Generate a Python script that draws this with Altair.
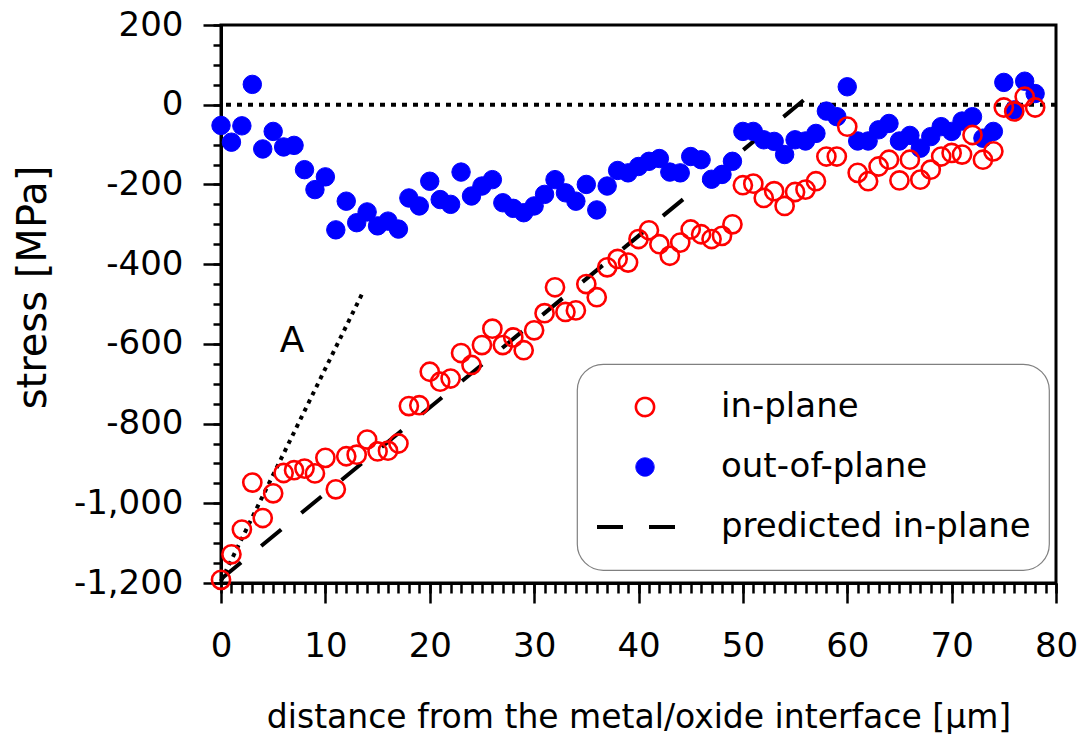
import altair as alt
import pandas as pd

FONT = "DejaVu Sans"

# ---------------- data ----------------
dist = [0, 1, 2, 3, 4, 5, 6, 7, 8, 9, 10, 11, 12, 13, 14, 15, 16, 17, 18, 19,
        20, 21, 22, 23, 24, 25, 26, 27, 28, 29, 30, 31, 32, 33, 34, 35, 36, 37, 38, 39,
        40, 41, 42, 43, 44, 45, 46, 47, 48, 49, 50, 51, 52, 53, 54, 55, 56, 57, 58, 59,
        60, 61, 62, 63, 64, 65, 66, 67, 68, 69, 70, 71, 72, 73, 74, 75, 76, 77, 78]

in_plane = [-1192, -1128, -1066, -948, -1037, -975, -924, -917, -913, -925,
            -886, -965, -882, -878, -840, -870, -868, -850, -756, -754,
            -670, -695, -687, -623, -653, -603, -562, -603, -584, -616,
            -566, -523, -458, -520, -516, -450, -483, -408, -387, -396,
            -337, -315, -350, -379, -346, -313, -325, -337, -329, -300,
            -202, -198, -234, -217, -254, -219, -213, -192, -130, -130,
            -55, -171, -192, -155, -138, -190, -138, -188, -163, -130,
            -121, -125, -76, -138, -117, -7, -17, 20, -7]

out_of_plane = [-52, -94, -53, 51, -111, -67, -106, -102, -163, -213,
                -181, -314, -242, -296, -269, -304, -292, -312, -234, -254,
                -192, -238, -250, -169, -229, -204, -188, -246, -260, -271,
                -254, -225, -188, -221, -242, -200, -264, -204, -165, -171,
                -155, -142, -135, -169, -171, -130, -138, -187, -175, -142,
                -67, -67, -88, -92, -125, -88, -91, -72, -16, -30,
                45, -91, -91, -63, -47, -91, -77, -109, -80, -55,
                -67, -41, -30, -84, -67, 56, -13, 59, 28]

pred_x = [0, 56]
pred_y = [-1190, 15]

a_line_x = [0, 13.6]
a_line_y = [-1195, -470]
a_label = ["A"]
a_label_x = [6.8]
a_label_y = [-594]

series = ["in-plane", "out-of-plane", "predicted in-plane"]

x_major = [0, 10, 20, 30, 40, 50, 60, 70, 80]
x_minor = list(range(0, 81, 1))
y_major = [-1200, -1000, -800, -600, -400, -200, 0, 200]
y_minor = list(range(-1200, 201, 50))

# ---------------- tables ----------------
pts = pd.DataFrame({
    "x": dist + dist,
    "y": out_of_plane + in_plane,
    "series": ["out-of-plane"] * len(dist) + ["in-plane"] * len(dist),
})
pred = pd.DataFrame({"x": pred_x, "y": pred_y, "series": ["predicted in-plane"] * len(pred_x)})
aline = pd.DataFrame({"x": a_line_x, "y": a_line_y})
alab = pd.DataFrame({"x": a_label_x, "y": a_label_y, "t": a_label})
zero = pd.DataFrame({"y": [0]})

xs = alt.Scale(domain=[0, 80], nice=False, zero=False)
ys = alt.Scale(domain=[-1200, 200], nice=False, zero=False)

x_axis = alt.Axis(values=x_major, tickSize=20, tickWidth=2.5, tickColor="black",
                  domainWidth=3, domainColor="black", grid=False,
                  labelFont=FONT, labelFontSize=34, labelColor="black",
                  labelPadding=26, labelFlush=False, labelOverlap=False,
                  title="distance from the metal/oxide interface [\u03bcm]",
                  titleFont=FONT, titleFontSize=33, titleFontWeight="normal",
                  titleColor="black", titleBaseline="alphabetic", titleY=144)
y_axis = alt.Axis(values=y_major, tickSize=18, tickWidth=2.5, tickColor="black",
                  domainWidth=3, domainColor="black", grid=False,
                  labelFont=FONT, labelFontSize=34, labelColor="black",
                  labelPadding=20, labelOverlap=False, labelFlush=False,
                  labelExpr="(datum.value < 0 ? '-' : '') + format(abs(datum.value), ',')",
                  title="stress [MPa]", titleFont=FONT, titleFontSize=40,
                  titleFontWeight="normal", titleColor="black", titleAngle=270,
                  titleAlign="center", titleBaseline="alphabetic",
                  titleX=-176, titleY=262)

X = alt.X("x:Q", scale=xs, axis=x_axis)
Y = alt.Y("y:Q", scale=ys, axis=y_axis)

stroke_enc = alt.Stroke("series:N", title=None,
                        scale=alt.Scale(domain=series, range=["#ff0000", "#0000ff", "#000000"]))
sw_enc = alt.StrokeWidth("series:N", title=None,
                         scale=alt.Scale(type="ordinal", domain=series, range=[2.6, 1, 4]))

zero_rule = alt.Chart(zero).mark_rule(color="black", strokeWidth=4, strokeDash=[5, 6]).encode(
    y=alt.Y("y:Q", scale=ys, axis=y_axis))

a_line = alt.Chart(aline).mark_line(color="black", strokeWidth=4, strokeDash=[4, 5]).encode(
    x=X, y=Y)

pred_line = alt.Chart(pred).mark_line(strokeCap="butt").encode(
    x=X, y=Y,
    stroke=stroke_enc,
    strokeWidth=sw_enc,
    strokeDash=alt.StrokeDash("series:N", title=None,
                              scale=alt.Scale(domain=series, range=[[1, 0], [1, 0], [26, 26]])),
)

points = alt.Chart(pts).mark_point(filled=True, opacity=1).encode(
    x=X, y=Y,
    stroke=stroke_enc,
    strokeWidth=sw_enc,
    fill=alt.Fill("series:N", title=None,
                  scale=alt.Scale(domain=series, range=["transparent", "#0000ff", "transparent"])),
    shape=alt.Shape("series:N", title=None,
                    scale=alt.Scale(domain=series, range=["circle", "circle", "stroke"])),
    size=alt.Size("series:N", title=None,
                  scale=alt.Scale(type="ordinal", domain=series, range=[330, 340, 9216])),
)

a_text = alt.Chart(alab).mark_text(font=FONT, fontSize=36, color="black").encode(
    x=X, y=Y, text="t:N")

content = alt.layer(zero_rule, a_line, pred_line, points, a_text)

minor = alt.Chart(pts).mark_point(opacity=0).encode(
    x=alt.X("x:Q", scale=xs,
            axis=alt.Axis(orient="bottom", values=x_minor, tickSize=10, tickWidth=2.5,
                          tickColor="black", labels=False, domain=False, grid=False, title=None)),
    y=alt.Y("y:Q", scale=ys,
            axis=alt.Axis(orient="left", values=y_minor, tickSize=8, tickWidth=2.5,
                          tickColor="black", labels=False, domain=False, grid=False, title=None)),
)

chart = alt.layer(content, minor).resolve_scale(x="independent", y="independent").properties(
    width=835, height=558,
    padding={"left": 221, "top": 25, "right": 28, "bottom": 151},
    autosize=alt.AutoSizeParams(type="none"),
    background="white",
).configure_view(
    stroke="black", strokeWidth=3,
).configure_legend(
    orient="none", legendX=356, legendY=339,
    padding=18, strokeColor="#808080", strokeWidth=1.2, cornerRadius=26,
    fillColor="white",
    labelFont=FONT, labelFontSize=34, labelColor="black", labelOffset=26,
    labelLimit=500, clipHeight=50, rowPadding=10, symbolOpacity=1,
)

chart.save("out.html", embed_options={"renderer": "svg", "actions": False})
